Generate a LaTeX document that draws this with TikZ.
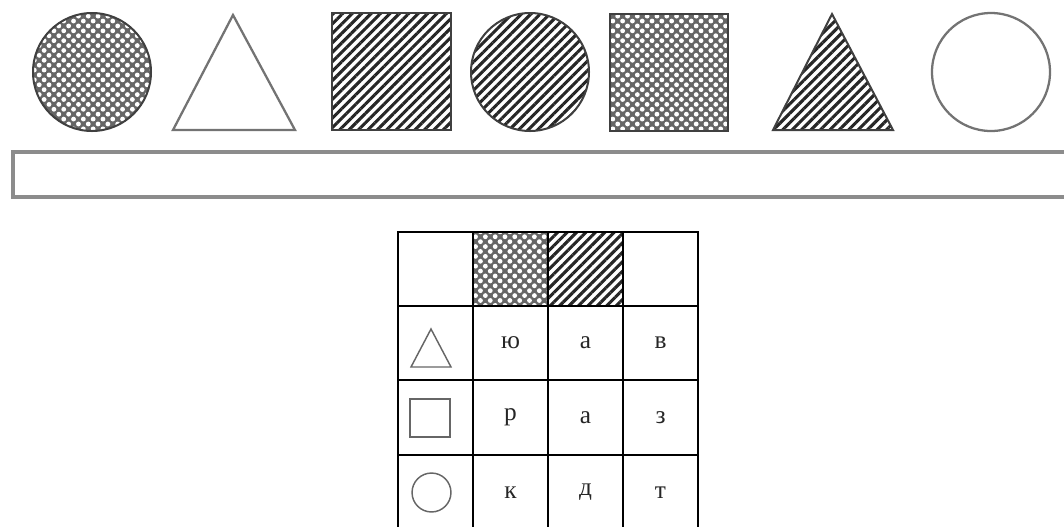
\documentclass[tikz,border=0pt]{standalone}
\usepackage{fontspec}
\setmainfont{Liberation Serif}
\usetikzlibrary{patterns.meta}
\tikzset{
  hatchfill/.style={pattern={Lines[angle=45,distance=5pt,line width=2.3pt]},pattern color=black!85},
  crossfill/.style={fill=black!60,postaction={pattern={Dots[radius=1.8pt,distance=5.2pt,angle=45]},pattern color=white}},
  darkline/.style={draw=black!75,line width=1.5pt},
  plainline/.style={draw=black!55,line width=1.7pt},
  smallshape/.style={draw=black!60,line width=1.1pt},
  cell/.style={draw=black,line width=1.1pt,minimum width=56.25pt,minimum height=55.5pt,inner sep=0pt,outer sep=0pt,font=\fontsize{19}{22}\selectfont,text=black!85},
  barline/.style={draw=black!45,line width=2.4pt}
}
\begin{document}
\begin{tikzpicture}[x=0.75pt,y=-0.75pt]
\useasboundingbox (0,0) rectangle (1064,526);
\clip (0,0) rectangle (1064,526);
% top row of shapes
\path[crossfill] (92,72) circle (44.25pt);
\path[darkline] (92,72) circle (44.25pt);
\path[plainline,line join=miter] (233,15) -- (295,130) -- (173,130) -- cycle;
\path[hatchfill] (332,13) rectangle (451,130);
\path[darkline] (332,13) rectangle (451,130);
\path[hatchfill] (530,72) circle (44.25pt);
\path[darkline] (530,72) circle (44.25pt);
\path[crossfill] (610,14) rectangle (728,131);
\path[darkline] (610,14) rectangle (728,131);
\path[hatchfill] (832,14) -- (893,130) -- (773,130) -- cycle;
\path[darkline,line join=miter] (832,14) -- (893,130) -- (773,130) -- cycle;
\path[plainline] (991,72) circle (44.25pt);
% answer bar
\path[barline] (13,152) rectangle (1080,197);
% table
\node[cell] (h0) at (435.5,269) {};
\node[cell,crossfill] (h1) at (510.5,269) {};
\node[cell,hatchfill] (h2) at (585.5,269) {};
\node[cell] (h3) at (660.5,269) {};
\node[cell] (t0) at (435.5,343) {};
\node[cell] (t1) at (510.5,343) {ю};
\node[cell] (t2) at (585.5,343) {а};
\node[cell] (t3) at (660.5,343) {в};
\node[cell] (s0) at (435.5,417.5) {};
\node[cell] (s1) at (510.5,417.5) {р};
\node[cell] (s2) at (585.5,417.5) {а};
\node[cell] (s3) at (660.5,417.5) {з};
\node[cell] (c0) at (435.5,492.5) {};
\node[cell] (c1) at (510.5,492.5) {к};
\node[cell] (c2) at (585.5,492.5) {д};
\node[cell] (c3) at (660.5,492.5) {т};
\draw[draw=black,line width=1.1pt] (h1.north west) rectangle (h2.south east);
% small shapes
\path[smallshape,line join=miter] (431,329) -- (451,367) -- (411,367) -- cycle;
\path[smallshape] (410,399) rectangle (450,437);
\path[smallshape] (431.5,492.5) circle (14.6pt);
\end{tikzpicture}
\end{document}
